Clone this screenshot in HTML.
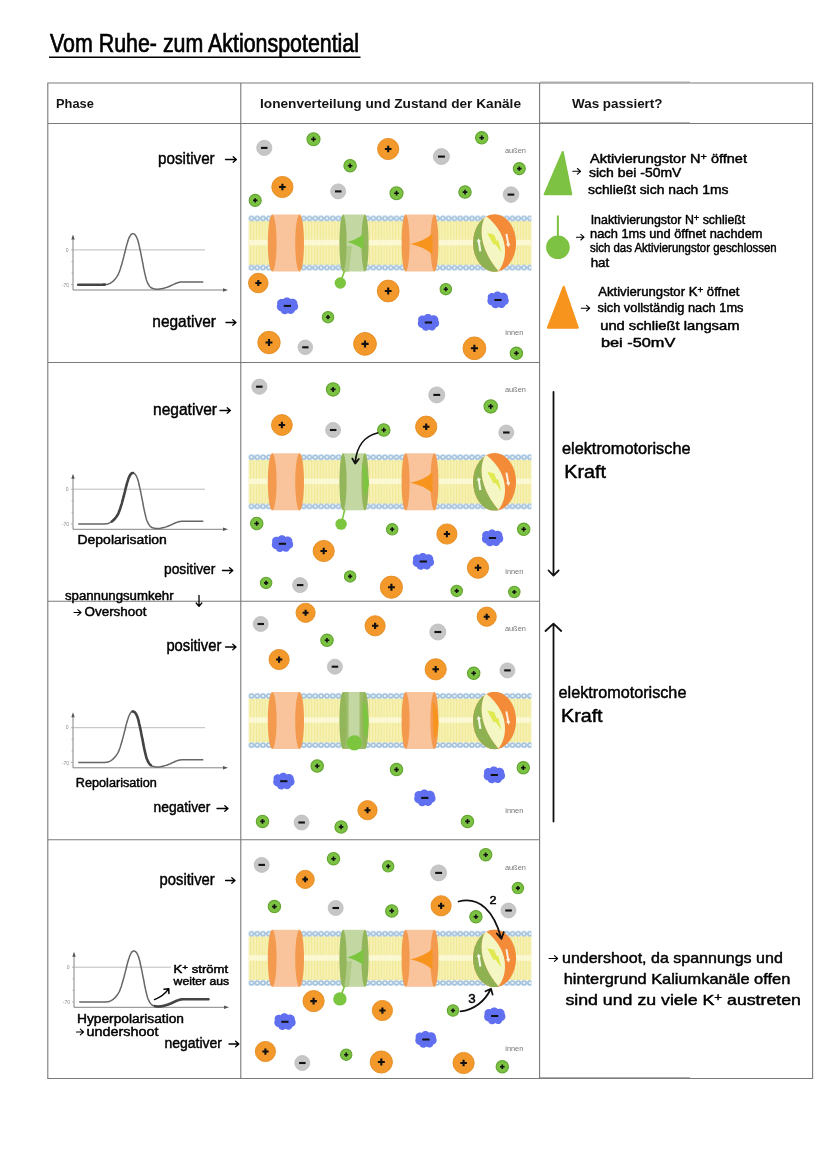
<!DOCTYPE html>
<html lang="de"><head><meta charset="utf-8"><title>Vom Ruhe- zum Aktionspotential</title>
<style>html,body{margin:0;padding:0;background:#fff}svg{display:block}text{font-family:"Liberation Sans", sans-serif}.hw{stroke:#000;stroke-width:.45px;stroke-linejoin:round}.hb{stroke:#000;stroke-width:.3px}</style>
</head><body>
<svg width="828" height="1171" viewBox="0 0 828 1171">
<defs>
<pattern id="tails" x="249.2" y="0" width="2.9" height="45" patternUnits="userSpaceOnUse"><rect width="2.9" height="45" fill="#faf7cc"/><rect x="0.6" width="1.8" height="45" fill="#f1e994"/></pattern>
<pattern id="heads" x="248.6" y="-27.6" width="5.8" height="6" patternUnits="userSpaceOnUse"><circle cx="2.9" cy="3" r="2.1" fill="#eef5fa" stroke="#9bbcd9" stroke-width="1.5"/></pattern>
<g id="blob"><path d="M-9.5 -1.5C-10.5 -5 -7 -7.5 -4 -6.2C-2.5 -8.5 1.5 -8.6 3 -6.4C6 -7.8 9.8 -5.5 9.4 -2C11 0.5 10 4 7 4.6C6.5 7.5 2.5 8.4 0.5 6.6C-1.5 8.6 -5.5 8 -6 5.2C-9 5 -11 1.5 -9.5 -1.5Z" fill="#5f6ff0"/><path d="M-3.4 0h6.8" stroke="#111" stroke-width="1.9"/></g>
<g id="pump"><clipPath id="pc"><ellipse cx="0" cy="0" rx="21.5" ry="28.8"/></clipPath><g clip-path="url(#pc)"><rect x="-22" y="-29" width="44" height="58" fill="#f38b38"/><path d="M-9.2 -30L-30 -30L-30 30L3.8 30L3.8 28C-13 8 -17 -12 -9.2 -27.5Z" fill="#8eb152"/><path d="M-9.2 -27.5C-17 -12 -13 8 3.8 28C12.5 18 16.5 -8 -9.2 -27.5Z" fill="#f4f6c4"/></g><path d="M-7.5 -10L-0.5 -8.6L2 -2.2L3.6 -2.6L6.8 9.5L0.8 1.2L-1 1.8Z" fill="#e0ea50"/><path d="M-15.3 8.5L-16.8 -1.2L-18 -1L-16.3 -4.6L-13.4 -1.7L-14.7 -1.5L-13.2 8.2Z" fill="#f3f7e6"/><path d="M10.8 -9L12.6 0.7L11.4 1L14.2 4.2L15.7 0.2L14.5 0.4L12.8 -9.3Z" fill="#fdf1e4"/></g>
</defs>
<rect width="828" height="1171" fill="#fff"/>
<text x="50.0" y="52.0" font-size="26" textLength="309.0" lengthAdjust="spacingAndGlyphs" stroke="#000" stroke-width="0.7">Vom Ruhe- zum Aktionspotential</text>
<path d="M49 57.3H360.5" stroke="#000" stroke-width="1.5"/>
<g stroke="#7a7a7a" stroke-width="1.1" fill="none">
<path d="M47.8 83H812.6V1078.5H47.8Z"/>
<path d="M47.8 123.5H812.6"/>
<path d="M240.8 83V1078.5M539.6 83V1078.5"/>
<path d="M540 82.1H690M540 122.7H690M540 1077.6H690" stroke="#9a9a9a" stroke-width="0.9"/>
<path d="M47.8 362.5H539.6"/>
<path d="M47.8 601.2H539.6"/>
<path d="M47.8 839.7H539.6"/>
</g>
<text x="56.0" y="108.4" font-size="13" textLength="37.8" lengthAdjust="spacingAndGlyphs" font-weight="bold" fill="#141414">Phase</text>
<text x="260.0" y="108.4" font-size="13" textLength="261.0" lengthAdjust="spacingAndGlyphs" font-weight="bold" fill="#141414">Ionenverteilung und Zustand der Kanäle</text>
<text x="572.0" y="108.4" font-size="13" textLength="90.5" lengthAdjust="spacingAndGlyphs" font-weight="bold" fill="#141414">Was passiert?</text>
<text x="158.0" y="163.6" font-size="16.4" textLength="56.7" lengthAdjust="spacingAndGlyphs" class="hw">positiver</text>
<path d="M225.5 159.5H236.4M233.2 156.7L236.4 159.5L233.2 162.3" fill="none" stroke="#000" stroke-width="1.3" stroke-linecap="round" stroke-linejoin="round"/>
<g transform="translate(0 0.0)">
<path d="M73 290V236.5M73 290H225" stroke="#777" stroke-width="0.9" fill="none"/>
<path d="M71.3 239.5L73 234.5L74.7 239.5ZM223 288.3L228 290L223 291.7Z" fill="#555"/>
<path d="M73 249.9H205" stroke="#aaa" stroke-width="0.8"/>
<path d="M71 249.9h2M71.5 261.5h1.5M71.5 273h1.5M71 284.7h2" stroke="#999" stroke-width="0.7"/>
<text x="68.5" y="251.6" font-size="5" fill="#888" text-anchor="end">0</text>
<text x="69" y="287" font-size="5" fill="#888" text-anchor="end">-70</text>
<polyline points="78.2,284.7 79.3,284.7 80.7,284.7 82.4,284.7 84.3,284.7 86.3,284.7 88.3,284.7 90.2,284.7 92.0,284.7 93.7,284.7 95.5,284.7 97.3,284.7 99.0,284.7 100.7,284.7 102.2,284.7 103.6,284.6 104.8,284.6 105.7,284.5 106.4,284.5 107.0,284.4 107.4,284.4 107.8,284.3 108.1,284.2 108.5,284.0 109.0,283.8 109.5,283.6 110.1,283.3 110.7,283.0 111.2,282.6 111.8,282.2 112.4,281.8 112.9,281.3 113.5,280.8 114.1,280.2 114.7,279.6 115.2,278.9 115.8,278.2 116.4,277.4 117.0,276.6 117.5,275.7 118.0,274.8 118.5,273.8 118.9,272.8 119.3,271.8 119.7,270.7 120.1,269.6 120.5,268.4 120.8,267.2 121.2,266.0 121.6,264.8 122.0,263.5 122.3,262.1 122.7,260.8 123.1,259.4 123.4,258.0 123.8,256.7 124.1,255.4 124.4,254.1 124.8,252.8 125.1,251.5 125.4,250.2 125.7,249.0 126.0,247.8 126.3,246.6 126.6,245.5 126.9,244.4 127.2,243.4 127.5,242.4 127.8,241.5 128.1,240.6 128.3,239.8 128.6,239.0 128.9,238.3 129.2,237.7 129.4,237.1 129.7,236.5 130.0,236.1 130.2,235.6 130.5,235.2 130.7,234.9 131.0,234.6 131.3,234.3 131.5,234.1 131.7,234.0 132.0,233.8 132.2,233.8 132.5,233.7 132.7,233.7 133.0,233.7 133.3,233.7 133.5,233.8 133.8,233.9 134.1,234.0 134.4,234.2 134.6,234.4 134.9,234.7 135.2,235.0 135.5,235.4 135.8,235.8 136.1,236.3 136.4,236.8 136.7,237.5 137.0,238.1 137.3,238.9 137.6,239.7 137.9,240.6 138.2,241.7 138.5,242.8 138.8,243.9 139.0,245.2 139.3,246.4 139.6,247.7 139.9,249.0 140.2,250.3 140.5,251.7 140.8,253.1 141.1,254.5 141.3,255.9 141.6,257.4 141.9,258.9 142.2,260.3 142.5,261.8 142.8,263.2 143.1,264.8 143.3,266.3 143.6,267.8 143.9,269.2 144.2,270.6 144.5,272.0 144.8,273.3 145.1,274.6 145.4,275.9 145.7,277.1 146.0,278.3 146.3,279.5 146.6,280.5 147.0,281.5 147.4,282.4 147.8,283.2 148.1,284.0 148.6,284.7 149.0,285.4 149.4,286.0 149.8,286.5 150.3,287.0 150.8,287.4 151.2,287.8 151.7,288.0 152.2,288.3 152.8,288.5 153.3,288.6 153.8,288.8 154.3,288.9 154.8,289.0 155.3,289.1 155.8,289.2 156.3,289.2 156.8,289.3 157.4,289.3 157.9,289.2 158.5,289.2 159.1,289.1 159.8,289.1 160.5,289.0 161.1,288.8 161.8,288.7 162.5,288.5 163.2,288.4 163.9,288.2 164.6,288.0 165.2,287.8 165.9,287.6 166.5,287.4 167.1,287.2 167.8,287.0 168.4,286.7 169.0,286.5 169.6,286.3 170.2,286.0 170.8,285.7 171.4,285.4 171.9,285.2 172.5,284.9 173.1,284.6 173.6,284.4 174.1,284.2 174.6,283.9 175.1,283.7 175.6,283.5 176.1,283.3 176.5,283.1 177.0,283.0 177.5,282.8 178.0,282.7 178.4,282.5 178.8,282.4 179.2,282.3 179.7,282.2 180.2,282.1 180.8,282.1 181.5,282.0 182.3,282.0 183.2,281.9 184.1,281.9 185.2,281.9 186.3,282.0 187.4,282.0 188.7,282.0 190.0,282.0 191.5,282.0 193.3,282.0 195.2,282.0 197.2,282.0 199.1,282.0 200.8,282.0 202.2,282.0 203.3,282.0" fill="none" stroke="#666" stroke-width="1.5" stroke-linejoin="round"/>
<polyline points="78.2,284.7 79.3,284.7 80.7,284.7 82.4,284.7 84.3,284.7 86.3,284.7 88.3,284.7 90.2,284.7 92.0,284.7 93.7,284.7 95.5,284.7 97.3,284.7 99.0,284.7 100.7,284.7 102.2,284.7 103.6,284.6 104.8,284.6" fill="none" stroke="#444" stroke-width="2.6" stroke-linecap="round" stroke-linejoin="round"/>
</g>
<text x="152.3" y="326.7" font-size="16.6" textLength="63.6" lengthAdjust="spacingAndGlyphs" class="hw">negativer</text>
<path d="M226.0 322.5H236.0M232.8 319.7L236.0 322.5L232.8 325.3" fill="none" stroke="#000" stroke-width="1.3" stroke-linecap="round" stroke-linejoin="round"/>
<text x="153.0" y="414.5" font-size="16.7" textLength="64.0" lengthAdjust="spacingAndGlyphs" class="hw">negativer</text>
<path d="M220.0 410.5H230.4M227.2 407.7L230.4 410.5L227.2 413.3" fill="none" stroke="#000" stroke-width="1.3" stroke-linecap="round" stroke-linejoin="round"/>
<g transform="translate(0 239.3)">
<path d="M73 290V236.5M73 290H225" stroke="#777" stroke-width="0.9" fill="none"/>
<path d="M71.3 239.5L73 234.5L74.7 239.5ZM223 288.3L228 290L223 291.7Z" fill="#555"/>
<path d="M73 249.9H205" stroke="#aaa" stroke-width="0.8"/>
<path d="M71 249.9h2M71.5 261.5h1.5M71.5 273h1.5M71 284.7h2" stroke="#999" stroke-width="0.7"/>
<text x="68.5" y="251.6" font-size="5" fill="#888" text-anchor="end">0</text>
<text x="69" y="287" font-size="5" fill="#888" text-anchor="end">-70</text>
<polyline points="78.2,284.7 79.3,284.7 80.7,284.7 82.4,284.7 84.3,284.7 86.3,284.7 88.3,284.7 90.2,284.7 92.0,284.7 93.7,284.7 95.5,284.7 97.3,284.7 99.0,284.7 100.7,284.7 102.2,284.7 103.6,284.6 104.8,284.6 105.7,284.5 106.4,284.5 107.0,284.4 107.4,284.4 107.8,284.3 108.1,284.2 108.5,284.0 109.0,283.8 109.5,283.6 110.1,283.3 110.7,283.0 111.2,282.6 111.8,282.2 112.4,281.8 112.9,281.3 113.5,280.8 114.1,280.2 114.7,279.6 115.2,278.9 115.8,278.2 116.4,277.4 117.0,276.6 117.5,275.7 118.0,274.8 118.5,273.8 118.9,272.8 119.3,271.8 119.7,270.7 120.1,269.6 120.5,268.4 120.8,267.2 121.2,266.0 121.6,264.8 122.0,263.5 122.3,262.1 122.7,260.8 123.1,259.4 123.4,258.0 123.8,256.7 124.1,255.4 124.4,254.1 124.8,252.8 125.1,251.5 125.4,250.2 125.7,249.0 126.0,247.8 126.3,246.6 126.6,245.5 126.9,244.4 127.2,243.4 127.5,242.4 127.8,241.5 128.1,240.6 128.3,239.8 128.6,239.0 128.9,238.3 129.2,237.7 129.4,237.1 129.7,236.5 130.0,236.1 130.2,235.6 130.5,235.2 130.7,234.9 131.0,234.6 131.3,234.3 131.5,234.1 131.7,234.0 132.0,233.8 132.2,233.8 132.5,233.7 132.7,233.7 133.0,233.7 133.3,233.7 133.5,233.8 133.8,233.9 134.1,234.0 134.4,234.2 134.6,234.4 134.9,234.7 135.2,235.0 135.5,235.4 135.8,235.8 136.1,236.3 136.4,236.8 136.7,237.5 137.0,238.1 137.3,238.9 137.6,239.7 137.9,240.6 138.2,241.7 138.5,242.8 138.8,243.9 139.0,245.2 139.3,246.4 139.6,247.7 139.9,249.0 140.2,250.3 140.5,251.7 140.8,253.1 141.1,254.5 141.3,255.9 141.6,257.4 141.9,258.9 142.2,260.3 142.5,261.8 142.8,263.2 143.1,264.8 143.3,266.3 143.6,267.8 143.9,269.2 144.2,270.6 144.5,272.0 144.8,273.3 145.1,274.6 145.4,275.9 145.7,277.1 146.0,278.3 146.3,279.5 146.6,280.5 147.0,281.5 147.4,282.4 147.8,283.2 148.1,284.0 148.6,284.7 149.0,285.4 149.4,286.0 149.8,286.5 150.3,287.0 150.8,287.4 151.2,287.8 151.7,288.0 152.2,288.3 152.8,288.5 153.3,288.6 153.8,288.8 154.3,288.9 154.8,289.0 155.3,289.1 155.8,289.2 156.3,289.2 156.8,289.3 157.4,289.3 157.9,289.2 158.5,289.2 159.1,289.1 159.8,289.1 160.5,289.0 161.1,288.8 161.8,288.7 162.5,288.5 163.2,288.4 163.9,288.2 164.6,288.0 165.2,287.8 165.9,287.6 166.5,287.4 167.1,287.2 167.8,287.0 168.4,286.7 169.0,286.5 169.6,286.3 170.2,286.0 170.8,285.7 171.4,285.4 171.9,285.2 172.5,284.9 173.1,284.6 173.6,284.4 174.1,284.2 174.6,283.9 175.1,283.7 175.6,283.5 176.1,283.3 176.5,283.1 177.0,283.0 177.5,282.8 178.0,282.7 178.4,282.5 178.8,282.4 179.2,282.3 179.7,282.2 180.2,282.1 180.8,282.1 181.5,282.0 182.3,282.0 183.2,281.9 184.1,281.9 185.2,281.9 186.3,282.0 187.4,282.0 188.7,282.0 190.0,282.0 191.5,282.0 193.3,282.0 195.2,282.0 197.2,282.0 199.1,282.0 200.8,282.0 202.2,282.0 203.3,282.0" fill="none" stroke="#666" stroke-width="1.5" stroke-linejoin="round"/>
<polyline points="111.8,282.2 112.4,281.8 112.9,281.3 113.5,280.8 114.1,280.2 114.7,279.6 115.2,278.9 115.8,278.2 116.4,277.4 117.0,276.6 117.5,275.7 118.0,274.8 118.5,273.8 118.9,272.8 119.3,271.8 119.7,270.7 120.1,269.6 120.5,268.4 120.8,267.2 121.2,266.0 121.6,264.8 122.0,263.5 122.3,262.1 122.7,260.8 123.1,259.4 123.4,258.0 123.8,256.7 124.1,255.4 124.4,254.1 124.8,252.8 125.1,251.5 125.4,250.2 125.7,249.0 126.0,247.8 126.3,246.6 126.6,245.5 126.9,244.4 127.2,243.4 127.5,242.4 127.8,241.5 128.1,240.6 128.3,239.8 128.6,239.0 128.9,238.3 129.2,237.7 129.4,237.1 129.7,236.5 130.0,236.1 130.2,235.6 130.5,235.2 130.7,234.9 131.0,234.6 131.3,234.3 131.5,234.1 131.7,234.0 132.0,233.8 132.2,233.8 132.5,233.7 132.7,233.7 133.0,233.7" fill="none" stroke="#444" stroke-width="2.6" stroke-linecap="round" stroke-linejoin="round"/>
</g>
<text x="77.5" y="543.7" font-size="12.5" textLength="89.3" lengthAdjust="spacingAndGlyphs" class="hw">Depolarisation</text>
<text x="164.0" y="574.0" font-size="14.8" textLength="51.4" lengthAdjust="spacingAndGlyphs" class="hw">positiver</text>
<path d="M222.4 570.5H232.8M229.6 567.7L232.8 570.5L229.6 573.3" fill="none" stroke="#000" stroke-width="1.3" stroke-linecap="round" stroke-linejoin="round"/>
<text x="65.0" y="599.8" font-size="12.5" textLength="108.6" lengthAdjust="spacingAndGlyphs" class="hw">spannungsumkehr</text>
<path d="M199 595.5V606M196.2 603L199 606.3L201.8 603" fill="none" stroke="#000" stroke-width="1.3" stroke-linecap="round" stroke-linejoin="round"/>
<path d="M74.0 612.5H81.0M77.8 609.7L81.0 612.5L77.8 615.3" fill="none" stroke="#000" stroke-width="1.1" stroke-linecap="round" stroke-linejoin="round"/>
<text x="84.5" y="616.2" font-size="12.5" textLength="62.0" lengthAdjust="spacingAndGlyphs" class="hw">Overshoot</text>
<text x="166.4" y="651.0" font-size="15.9" textLength="55.0" lengthAdjust="spacingAndGlyphs" class="hw">positiver</text>
<path d="M225.5 647.0H236.0M232.8 644.2L236.0 647.0L232.8 649.8" fill="none" stroke="#000" stroke-width="1.3" stroke-linecap="round" stroke-linejoin="round"/>
<g transform="translate(0 477.8)">
<path d="M73 290V236.5M73 290H225" stroke="#777" stroke-width="0.9" fill="none"/>
<path d="M71.3 239.5L73 234.5L74.7 239.5ZM223 288.3L228 290L223 291.7Z" fill="#555"/>
<path d="M73 249.9H205" stroke="#aaa" stroke-width="0.8"/>
<path d="M71 249.9h2M71.5 261.5h1.5M71.5 273h1.5M71 284.7h2" stroke="#999" stroke-width="0.7"/>
<text x="68.5" y="251.6" font-size="5" fill="#888" text-anchor="end">0</text>
<text x="69" y="287" font-size="5" fill="#888" text-anchor="end">-70</text>
<polyline points="78.2,284.7 79.3,284.7 80.7,284.7 82.4,284.7 84.3,284.7 86.3,284.7 88.3,284.7 90.2,284.7 92.0,284.7 93.7,284.7 95.5,284.7 97.3,284.7 99.0,284.7 100.7,284.7 102.2,284.7 103.6,284.6 104.8,284.6 105.7,284.5 106.4,284.5 107.0,284.4 107.4,284.4 107.8,284.3 108.1,284.2 108.5,284.0 109.0,283.8 109.5,283.6 110.1,283.3 110.7,283.0 111.2,282.6 111.8,282.2 112.4,281.8 112.9,281.3 113.5,280.8 114.1,280.2 114.7,279.6 115.2,278.9 115.8,278.2 116.4,277.4 117.0,276.6 117.5,275.7 118.0,274.8 118.5,273.8 118.9,272.8 119.3,271.8 119.7,270.7 120.1,269.6 120.5,268.4 120.8,267.2 121.2,266.0 121.6,264.8 122.0,263.5 122.3,262.1 122.7,260.8 123.1,259.4 123.4,258.0 123.8,256.7 124.1,255.4 124.4,254.1 124.8,252.8 125.1,251.5 125.4,250.2 125.7,249.0 126.0,247.8 126.3,246.6 126.6,245.5 126.9,244.4 127.2,243.4 127.5,242.4 127.8,241.5 128.1,240.6 128.3,239.8 128.6,239.0 128.9,238.3 129.2,237.7 129.4,237.1 129.7,236.5 130.0,236.1 130.2,235.6 130.5,235.2 130.7,234.9 131.0,234.6 131.3,234.3 131.5,234.1 131.7,234.0 132.0,233.8 132.2,233.8 132.5,233.7 132.7,233.7 133.0,233.7 133.3,233.7 133.5,233.8 133.8,233.9 134.1,234.0 134.4,234.2 134.6,234.4 134.9,234.7 135.2,235.0 135.5,235.4 135.8,235.8 136.1,236.3 136.4,236.8 136.7,237.5 137.0,238.1 137.3,238.9 137.6,239.7 137.9,240.6 138.2,241.7 138.5,242.8 138.8,243.9 139.0,245.2 139.3,246.4 139.6,247.7 139.9,249.0 140.2,250.3 140.5,251.7 140.8,253.1 141.1,254.5 141.3,255.9 141.6,257.4 141.9,258.9 142.2,260.3 142.5,261.8 142.8,263.2 143.1,264.8 143.3,266.3 143.6,267.8 143.9,269.2 144.2,270.6 144.5,272.0 144.8,273.3 145.1,274.6 145.4,275.9 145.7,277.1 146.0,278.3 146.3,279.5 146.6,280.5 147.0,281.5 147.4,282.4 147.8,283.2 148.1,284.0 148.6,284.7 149.0,285.4 149.4,286.0 149.8,286.5 150.3,287.0 150.8,287.4 151.2,287.8 151.7,288.0 152.2,288.3 152.8,288.5 153.3,288.6 153.8,288.8 154.3,288.9 154.8,289.0 155.3,289.1 155.8,289.2 156.3,289.2 156.8,289.3 157.4,289.3 157.9,289.2 158.5,289.2 159.1,289.1 159.8,289.1 160.5,289.0 161.1,288.8 161.8,288.7 162.5,288.5 163.2,288.4 163.9,288.2 164.6,288.0 165.2,287.8 165.9,287.6 166.5,287.4 167.1,287.2 167.8,287.0 168.4,286.7 169.0,286.5 169.6,286.3 170.2,286.0 170.8,285.7 171.4,285.4 171.9,285.2 172.5,284.9 173.1,284.6 173.6,284.4 174.1,284.2 174.6,283.9 175.1,283.7 175.6,283.5 176.1,283.3 176.5,283.1 177.0,283.0 177.5,282.8 178.0,282.7 178.4,282.5 178.8,282.4 179.2,282.3 179.7,282.2 180.2,282.1 180.8,282.1 181.5,282.0 182.3,282.0 183.2,281.9 184.1,281.9 185.2,281.9 186.3,282.0 187.4,282.0 188.7,282.0 190.0,282.0 191.5,282.0 193.3,282.0 195.2,282.0 197.2,282.0 199.1,282.0 200.8,282.0 202.2,282.0 203.3,282.0" fill="none" stroke="#666" stroke-width="1.5" stroke-linejoin="round"/>
<polyline points="132.5,233.7 132.7,233.7 133.0,233.7 133.3,233.7 133.5,233.8 133.8,233.9 134.1,234.0 134.4,234.2 134.6,234.4 134.9,234.7 135.2,235.0 135.5,235.4 135.8,235.8 136.1,236.3 136.4,236.8 136.7,237.5 137.0,238.1 137.3,238.9 137.6,239.7 137.9,240.6 138.2,241.7 138.5,242.8 138.8,243.9 139.0,245.2 139.3,246.4 139.6,247.7 139.9,249.0 140.2,250.3 140.5,251.7 140.8,253.1 141.1,254.5 141.3,255.9 141.6,257.4 141.9,258.9 142.2,260.3 142.5,261.8 142.8,263.2 143.1,264.8 143.3,266.3 143.6,267.8 143.9,269.2 144.2,270.6 144.5,272.0 144.8,273.3 145.1,274.6 145.4,275.9 145.7,277.1 146.0,278.3 146.3,279.5 146.6,280.5 147.0,281.5 147.4,282.4 147.8,283.2 148.1,284.0 148.6,284.7 149.0,285.4 149.4,286.0 149.8,286.5 150.3,287.0 150.8,287.4" fill="none" stroke="#444" stroke-width="2.6" stroke-linecap="round" stroke-linejoin="round"/>
</g>
<text x="75.8" y="786.7" font-size="12.5" textLength="81.0" lengthAdjust="spacingAndGlyphs" class="hw">Repolarisation</text>
<text x="153.6" y="812.0" font-size="14.8" textLength="56.7" lengthAdjust="spacingAndGlyphs" class="hw">negativer</text>
<path d="M217.0 808.5H228.0M224.8 805.7L228.0 808.5L224.8 811.3" fill="none" stroke="#000" stroke-width="1.3" stroke-linecap="round" stroke-linejoin="round"/>
<text x="159.6" y="884.9" font-size="15.9" textLength="55.1" lengthAdjust="spacingAndGlyphs" class="hw">positiver</text>
<path d="M225.5 880.5H235.0M231.8 877.7L235.0 880.5L231.8 883.3" fill="none" stroke="#000" stroke-width="1.3" stroke-linecap="round" stroke-linejoin="round"/>
<g transform="translate(1 717.3)">
<path d="M73 290V236.5M73 290H225" stroke="#777" stroke-width="0.9" fill="none"/>
<path d="M71.3 239.5L73 234.5L74.7 239.5ZM223 288.3L228 290L223 291.7Z" fill="#555"/>
<path d="M73 249.9H170" stroke="#aaa" stroke-width="0.8"/>
<path d="M71 249.9h2M71.5 261.5h1.5M71.5 273h1.5M71 284.7h2" stroke="#999" stroke-width="0.7"/>
<text x="68.5" y="251.6" font-size="5" fill="#888" text-anchor="end">0</text>
<text x="69" y="287" font-size="5" fill="#888" text-anchor="end">-70</text>
<polyline points="78.2,284.7 79.3,284.7 80.7,284.7 82.4,284.7 84.3,284.7 86.3,284.7 88.3,284.7 90.2,284.7 92.0,284.7 93.7,284.7 95.5,284.7 97.3,284.7 99.0,284.7 100.7,284.7 102.2,284.7 103.6,284.6 104.8,284.6 105.7,284.5 106.4,284.5 107.0,284.4 107.4,284.4 107.8,284.3 108.1,284.2 108.5,284.0 109.0,283.8 109.5,283.6 110.1,283.3 110.7,283.0 111.2,282.6 111.8,282.2 112.4,281.8 112.9,281.3 113.5,280.8 114.1,280.2 114.7,279.6 115.2,278.9 115.8,278.2 116.4,277.4 117.0,276.6 117.5,275.7 118.0,274.8 118.5,273.8 118.9,272.8 119.3,271.8 119.7,270.7 120.1,269.6 120.5,268.4 120.8,267.2 121.2,266.0 121.6,264.8 122.0,263.5 122.3,262.1 122.7,260.8 123.1,259.4 123.4,258.0 123.8,256.7 124.1,255.4 124.4,254.1 124.8,252.8 125.1,251.5 125.4,250.2 125.7,249.0 126.0,247.8 126.3,246.6 126.6,245.5 126.9,244.4 127.2,243.4 127.5,242.4 127.8,241.5 128.1,240.6 128.3,239.8 128.6,239.0 128.9,238.3 129.2,237.7 129.4,237.1 129.7,236.5 130.0,236.1 130.2,235.6 130.5,235.2 130.7,234.9 131.0,234.6 131.3,234.3 131.5,234.1 131.7,234.0 132.0,233.8 132.2,233.8 132.5,233.7 132.7,233.7 133.0,233.7 133.3,233.7 133.5,233.8 133.8,233.9 134.1,234.0 134.4,234.2 134.6,234.4 134.9,234.7 135.2,235.0 135.5,235.4 135.8,235.8 136.1,236.3 136.4,236.8 136.7,237.5 137.0,238.1 137.3,238.9 137.6,239.7 137.9,240.6 138.2,241.7 138.5,242.8 138.8,243.9 139.0,245.2 139.3,246.4 139.6,247.7 139.9,249.0 140.2,250.3 140.5,251.7 140.8,253.1 141.1,254.5 141.3,255.9 141.6,257.4 141.9,258.9 142.2,260.3 142.5,261.8 142.8,263.2 143.1,264.8 143.3,266.3 143.6,267.8 143.9,269.2 144.2,270.6 144.5,272.0 144.8,273.3 145.1,274.6 145.4,275.9 145.7,277.1 146.0,278.3 146.3,279.5 146.6,280.5 147.0,281.5 147.4,282.4 147.8,283.2 148.1,284.0 148.6,284.7 149.0,285.4 149.4,286.0 149.8,286.5 150.3,287.0 150.8,287.4 151.2,287.8 151.7,288.0 152.2,288.3 152.8,288.5 153.3,288.6 153.8,288.8 154.3,288.9 154.8,289.0 155.3,289.1 155.8,289.2 156.3,289.2 156.8,289.3 157.4,289.3 157.9,289.2 158.5,289.2 159.1,289.1 159.8,289.1 160.5,289.0 161.1,288.8 161.8,288.7 162.5,288.5 163.2,288.4 163.9,288.2 164.6,288.0 165.2,287.8 165.9,287.6 166.5,287.4 167.1,287.2 167.8,287.0 168.4,286.7 169.0,286.5 169.6,286.3 170.2,286.0 170.8,285.7 171.4,285.4 171.9,285.2 172.5,284.9 173.1,284.6 173.6,284.4 174.1,284.2 174.6,283.9 175.1,283.7 175.6,283.5 176.1,283.3 176.5,283.1 177.0,283.0 177.5,282.8 178.0,282.7 178.4,282.5 178.8,282.4 179.2,282.3 179.7,282.2 180.2,282.1 180.8,282.1 181.5,282.0 182.3,282.0 183.2,281.9 184.1,281.9 185.2,281.9 186.3,282.0 187.4,282.0 188.7,282.0 190.0,282.0 191.5,282.0 193.3,282.0 195.2,282.0 197.2,282.0 199.1,282.0 200.8,282.0 202.2,282.0 203.3,282.0" fill="none" stroke="#666" stroke-width="1.5" stroke-linejoin="round"/>
<polyline points="153.8,288.8 154.3,288.9 154.8,289.0 155.3,289.1 155.8,289.2 156.3,289.2 156.8,289.3 157.4,289.3 157.9,289.2 158.5,289.2 159.1,289.1 159.8,289.1 160.5,289.0 161.1,288.8 161.8,288.7 162.5,288.5 163.2,288.4 163.9,288.2 164.6,288.0 165.2,287.8 165.9,287.6 166.5,287.4 167.1,287.2 167.8,287.0 168.4,286.7 169.0,286.5 169.6,286.3 170.2,286.0 170.8,285.7 171.4,285.4 171.9,285.2 172.5,284.9 173.1,284.6 173.6,284.4 174.1,284.2 174.6,283.9 175.1,283.7 175.6,283.5 176.1,283.3 176.5,283.1 177.0,283.0 177.5,282.8 178.0,282.7 178.4,282.5 178.8,282.4 179.2,282.3 179.7,282.2 180.2,282.1 180.8,282.1 181.5,282.0 182.3,282.0 183.2,281.9 184.1,281.9 185.2,281.9 186.3,282.0 187.4,282.0 188.7,282.0 190.0,282.0 191.5,282.0 193.3,282.0 195.2,282.0 197.2,282.0 199.1,282.0 200.8,282.0 202.2,282.0 203.3,282.0 207.5,282.0" fill="none" stroke="#444" stroke-width="2.6" stroke-linecap="round" stroke-linejoin="round"/>
</g>
<text x="173.6" y="973.0" font-size="10.5" textLength="54.5" lengthAdjust="spacingAndGlyphs" class="hw">K<tspan dy="-3.5" font-size="75%">+</tspan><tspan dy="3.5"> </tspan>strömt</text>
<text x="173.6" y="984.6" font-size="10.5" textLength="55.6" lengthAdjust="spacingAndGlyphs" class="hw">weiter aus</text>
<path d="M154.5 999.6C160 997.5 165 994 168.6 988.9M164 989.2L168.8 988.7L168.9 993.6" fill="none" stroke="#000" stroke-width="1.5" stroke-linecap="round" stroke-linejoin="round"/>
<text x="77.0" y="1022.5" font-size="12.5" textLength="107.0" lengthAdjust="spacingAndGlyphs" class="hw">Hyperpolarisation</text>
<path d="M76.5 1032.0H83.5M80.3 1029.2L83.5 1032.0L80.3 1034.8" fill="none" stroke="#000" stroke-width="1.1" stroke-linecap="round" stroke-linejoin="round"/>
<text x="86.5" y="1035.8" font-size="12.5" textLength="72.0" lengthAdjust="spacingAndGlyphs" class="hw">undershoot</text>
<text x="164.4" y="1047.9" font-size="15.1" textLength="57.6" lengthAdjust="spacingAndGlyphs" class="hw">negativer</text>
<path d="M229.0 1044.0H238.8M235.6 1041.2L238.8 1044.0L235.6 1046.8" fill="none" stroke="#000" stroke-width="1.3" stroke-linecap="round" stroke-linejoin="round"/>
<g transform="translate(0 243.0)">
<rect x="248.6" y="-22" width="282.8" height="44" fill="url(#tails)"/>
<rect x="248.6" y="-3.2" width="282.8" height="5.6" fill="#fbf9d6" opacity="0.92"/>
<rect x="248.6" y="-27.6" width="282.8" height="6" fill="url(#heads)"/>
<g transform="translate(0 49.2)"><rect x="248.6" y="-27.6" width="282.8" height="6" fill="url(#heads)"/></g>
<rect x="272" y="-28.5" width="28" height="57" fill="#f9c49c"/>
<ellipse cx="272.2" cy="0" rx="4.4" ry="28.5" fill="#f39a4e"/>
<ellipse cx="299.6" cy="0" rx="4.4" ry="28.5" fill="#f39a4e"/>
<rect x="343" y="-28.5" width="22" height="57" fill="#c3d7a2"/>
<path d="M343 3L352 3L349 28.5L343 28.5Z" fill="#b0cb86"/>
<ellipse cx="343" cy="0" rx="3.6" ry="28.5" fill="#93b65a"/>
<ellipse cx="365" cy="0" rx="3.6" ry="28.5" fill="#93b65a"/>
<path d="M347.2 -0.9Q356 -3 363.4 -9L363.4 6.6Q356 1.2 347.2 -0.9Z" fill="#7cc53e"/>
<path d="M344.7 27.5L341.3 37.0" stroke="#7cc53e" stroke-width="1.6" fill="none"/>
<circle cx="340.3" cy="40.0" r="5.7" fill="#7cc53e"/>
<rect x="405.5" y="-28.5" width="29" height="57" fill="#f9c49c"/>
<ellipse cx="405.6" cy="0" rx="4" ry="28.5" fill="#f39a4e"/>
<ellipse cx="434.4" cy="0" rx="4" ry="28.5" fill="#f39a4e"/>
<path d="M410.2 0.9Q424 -1.8 432.5 -9.6L432.5 11.4Q424 3.6 410.2 0.9Z" fill="#f7941d"/>
<g transform="translate(494.6 0)"><use href="#pump"/></g>
</g>
<circle cx="264.3" cy="147.9" r="7.6" fill="#c6c6c6" stroke="#bcbcbc" stroke-width="0.8"/>
<path d="M261.0 147.9h6.5" stroke="#111" stroke-width="2.1"/>
<circle cx="313.5" cy="139.2" r="6.5" fill="#7bc142" stroke="#62a430" stroke-width="1.1"/>
<path d="M311.1 139.2h4.8M313.5 136.8v4.8" stroke="#111" stroke-width="1.6"/>
<circle cx="388.2" cy="149.0" r="10.6" fill="#f3982b" stroke="#e38c22" stroke-width="0.9"/>
<path d="M384.9 149.0h6.6M388.2 145.7v6.6" stroke="#111" stroke-width="2.1"/>
<circle cx="441.4" cy="156.6" r="8" fill="#c6c6c6" stroke="#bcbcbc" stroke-width="0.8"/>
<path d="M438.0 156.6h6.9" stroke="#111" stroke-width="2.1"/>
<circle cx="481.7" cy="137.8" r="6.2" fill="#7bc142" stroke="#62a430" stroke-width="1.1"/>
<path d="M479.4 137.8h4.6M481.7 135.5v4.6" stroke="#111" stroke-width="1.6"/>
<circle cx="350.1" cy="165.7" r="6.2" fill="#7bc142" stroke="#62a430" stroke-width="1.1"/>
<path d="M347.8 165.7h4.6M350.1 163.4v4.6" stroke="#111" stroke-width="1.6"/>
<circle cx="519.3" cy="168.6" r="6.0" fill="#7bc142" stroke="#62a430" stroke-width="1.1"/>
<path d="M517.1 168.6h4.4M519.3 166.4v4.4" stroke="#111" stroke-width="1.6"/>
<circle cx="282.4" cy="187.0" r="10.6" fill="#f3982b" stroke="#e38c22" stroke-width="0.9"/>
<path d="M279.1 187.0h6.6M282.4 183.7v6.6" stroke="#111" stroke-width="2.1"/>
<circle cx="338.2" cy="191.4" r="7.5" fill="#c6c6c6" stroke="#bcbcbc" stroke-width="0.8"/>
<path d="M335.0 191.4h6.5" stroke="#111" stroke-width="2.1"/>
<circle cx="396.5" cy="193.2" r="6.5" fill="#7bc142" stroke="#62a430" stroke-width="1.1"/>
<path d="M394.1 193.2h4.8M396.5 190.8v4.8" stroke="#111" stroke-width="1.6"/>
<circle cx="465.0" cy="192.1" r="6.2" fill="#7bc142" stroke="#62a430" stroke-width="1.1"/>
<path d="M462.7 192.1h4.6M465.0 189.8v4.6" stroke="#111" stroke-width="1.6"/>
<circle cx="511.0" cy="194.6" r="7.8" fill="#c6c6c6" stroke="#bcbcbc" stroke-width="0.8"/>
<path d="M507.6 194.6h6.7" stroke="#111" stroke-width="2.1"/>
<circle cx="255.2" cy="200.4" r="6.0" fill="#7bc142" stroke="#62a430" stroke-width="1.1"/>
<path d="M253.0 200.4h4.4M255.2 198.2v4.4" stroke="#111" stroke-width="1.6"/>
<circle cx="258.3" cy="283.0" r="9.8" fill="#f3982b" stroke="#e38c22" stroke-width="0.9"/>
<path d="M255.3 283.0h6.1M258.3 280.0v6.1" stroke="#111" stroke-width="2.1"/>
<circle cx="388.2" cy="291.0" r="10.9" fill="#f3982b" stroke="#e38c22" stroke-width="0.9"/>
<path d="M384.8 291.0h6.8M388.2 287.6v6.8" stroke="#111" stroke-width="2.1"/>
<circle cx="445.8" cy="289.2" r="5.7" fill="#7bc142" stroke="#62a430" stroke-width="1.1"/>
<path d="M443.7 289.2h4.2M445.8 287.1v4.2" stroke="#111" stroke-width="1.6"/>
<g transform="translate(498.0 300.0) scale(1.06)"><use href="#blob"/></g>
<g transform="translate(287.4 305.9) scale(1.06)"><use href="#blob"/></g>
<circle cx="328.0" cy="317.2" r="5.7" fill="#7bc142" stroke="#62a430" stroke-width="1.1"/>
<path d="M325.9 317.2h4.2M328.0 315.1v4.2" stroke="#111" stroke-width="1.6"/>
<g transform="translate(428.4 322.5) scale(1.06)"><use href="#blob"/></g>
<circle cx="269.0" cy="342.5" r="11.2" fill="#f3982b" stroke="#e38c22" stroke-width="0.9"/>
<path d="M265.5 342.5h6.9M269.0 339.0v6.9" stroke="#111" stroke-width="2.1"/>
<circle cx="305.3" cy="347.3" r="7.3" fill="#c6c6c6" stroke="#bcbcbc" stroke-width="0.8"/>
<path d="M302.2 347.3h6.3" stroke="#111" stroke-width="2.1"/>
<circle cx="365.0" cy="343.9" r="11.4" fill="#f3982b" stroke="#e38c22" stroke-width="0.9"/>
<path d="M361.5 343.9h7.1M365.0 340.4v7.1" stroke="#111" stroke-width="2.1"/>
<circle cx="474.4" cy="348.3" r="11.4" fill="#f3982b" stroke="#e38c22" stroke-width="0.9"/>
<path d="M470.9 348.3h7.1M474.4 344.8v7.1" stroke="#111" stroke-width="2.1"/>
<circle cx="516.4" cy="353.3" r="6.2" fill="#7bc142" stroke="#62a430" stroke-width="1.1"/>
<path d="M514.1 353.3h4.6M516.4 351.0v4.6" stroke="#111" stroke-width="1.6"/>
<text x="504.9" y="153.1" font-size="6.6" textLength="21.0" lengthAdjust="spacingAndGlyphs" fill="#747474">außen</text>
<text x="505.3" y="335.0" font-size="6.6" textLength="18.0" lengthAdjust="spacingAndGlyphs" fill="#747474">innen</text>
<g transform="translate(0 481.8)">
<rect x="248.6" y="-22" width="282.8" height="44" fill="url(#tails)"/>
<rect x="248.6" y="-3.2" width="282.8" height="5.6" fill="#fbf9d6" opacity="0.92"/>
<rect x="248.6" y="-27.6" width="282.8" height="6" fill="url(#heads)"/>
<g transform="translate(0 49.2)"><rect x="248.6" y="-27.6" width="282.8" height="6" fill="url(#heads)"/></g>
<rect x="272" y="-28.5" width="28" height="57" fill="#f9c49c"/>
<ellipse cx="272.2" cy="0" rx="4.4" ry="28.5" fill="#f39a4e"/>
<ellipse cx="299.6" cy="0" rx="4.4" ry="28.5" fill="#f39a4e"/>
<rect x="343" y="-28.5" width="22" height="57" fill="#c3d7a2"/>
<ellipse cx="343" cy="0" rx="3.6" ry="28.5" fill="#93b65a"/>
<ellipse cx="365" cy="0" rx="3.6" ry="28.5" fill="#93b65a"/>
<path d="M362.6 -19C366 -14 368.6 -4 369 1C368.6 6 366.5 12 364.6 14C363.4 6 363 -8 362.6 -19Z" fill="#7cc53e"/>
<path d="M344.7 27.5L342.1 39.3" stroke="#7cc53e" stroke-width="1.6" fill="none"/>
<circle cx="341.1" cy="42.3" r="5.7" fill="#7cc53e"/>
<rect x="405.5" y="-28.5" width="29" height="57" fill="#f9c49c"/>
<ellipse cx="405.6" cy="0" rx="4" ry="28.5" fill="#f39a4e"/>
<ellipse cx="434.4" cy="0" rx="4" ry="28.5" fill="#f39a4e"/>
<path d="M410.2 0.9Q424 -1.8 432.5 -9.6L432.5 11.4Q424 3.6 410.2 0.9Z" fill="#f7941d"/>
<g transform="translate(494.6 0)"><use href="#pump"/></g>
</g>
<circle cx="259.4" cy="386.7" r="7.6" fill="#c6c6c6" stroke="#bcbcbc" stroke-width="0.8"/>
<path d="M256.1 386.7h6.5" stroke="#111" stroke-width="2.1"/>
<circle cx="333.1" cy="389.4" r="6.7" fill="#7bc142" stroke="#62a430" stroke-width="1.1"/>
<path d="M330.6 389.4h5.0M333.1 386.9v5.0" stroke="#111" stroke-width="1.6"/>
<circle cx="436.7" cy="394.9" r="8" fill="#c6c6c6" stroke="#bcbcbc" stroke-width="0.8"/>
<path d="M433.3 394.9h6.9" stroke="#111" stroke-width="2.1"/>
<circle cx="490.7" cy="406.4" r="6.7" fill="#7bc142" stroke="#62a430" stroke-width="1.1"/>
<path d="M488.2 406.4h5.0M490.7 403.9v5.0" stroke="#111" stroke-width="1.6"/>
<circle cx="281.9" cy="425.0" r="10.4" fill="#f3982b" stroke="#e38c22" stroke-width="0.9"/>
<path d="M278.7 425.0h6.4M281.9 421.8v6.4" stroke="#111" stroke-width="2.1"/>
<circle cx="333.1" cy="430.0" r="7.5" fill="#c6c6c6" stroke="#bcbcbc" stroke-width="0.8"/>
<path d="M329.9 430.0h6.5" stroke="#111" stroke-width="2.1"/>
<circle cx="383.8" cy="430.0" r="6.2" fill="#7bc142" stroke="#62a430" stroke-width="1.1"/>
<path d="M381.5 430.0h4.6M383.8 427.7v4.6" stroke="#111" stroke-width="1.6"/>
<circle cx="426.2" cy="426.7" r="10.6" fill="#f3982b" stroke="#e38c22" stroke-width="0.9"/>
<path d="M422.9 426.7h6.6M426.2 423.4v6.6" stroke="#111" stroke-width="2.1"/>
<circle cx="506.3" cy="432.5" r="7.5" fill="#c6c6c6" stroke="#bcbcbc" stroke-width="0.8"/>
<path d="M503.1 432.5h6.5" stroke="#111" stroke-width="2.1"/>
<circle cx="256.7" cy="523.5" r="6.2" fill="#7bc142" stroke="#62a430" stroke-width="1.1"/>
<path d="M254.4 523.5h4.6M256.7 521.2v4.6" stroke="#111" stroke-width="1.6"/>
<circle cx="392.2" cy="529.3" r="5.7" fill="#7bc142" stroke="#62a430" stroke-width="1.1"/>
<path d="M390.1 529.3h4.2M392.2 527.2v4.2" stroke="#111" stroke-width="1.6"/>
<circle cx="446.9" cy="534.0" r="10.1" fill="#f3982b" stroke="#e38c22" stroke-width="0.9"/>
<path d="M443.8 534.0h6.3M446.9 530.9v6.3" stroke="#111" stroke-width="2.1"/>
<circle cx="523.7" cy="529.3" r="6.2" fill="#7bc142" stroke="#62a430" stroke-width="1.1"/>
<path d="M521.4 529.3h4.6M523.7 527.0v4.6" stroke="#111" stroke-width="1.6"/>
<g transform="translate(282.4 543.8) scale(1.06)"><use href="#blob"/></g>
<g transform="translate(492.5 538.0) scale(1.06)"><use href="#blob"/></g>
<circle cx="323.7" cy="551.0" r="10.6" fill="#f3982b" stroke="#e38c22" stroke-width="0.9"/>
<path d="M320.4 551.0h6.6M323.7 547.7v6.6" stroke="#111" stroke-width="2.1"/>
<g transform="translate(423.3 561.5) scale(1.06)"><use href="#blob"/></g>
<circle cx="478.0" cy="567.7" r="10.6" fill="#f3982b" stroke="#e38c22" stroke-width="0.9"/>
<path d="M474.7 567.7h6.6M478.0 564.4v6.6" stroke="#111" stroke-width="2.1"/>
<circle cx="266.1" cy="582.9" r="5.7" fill="#7bc142" stroke="#62a430" stroke-width="1.1"/>
<path d="M264.0 582.9h4.2M266.1 580.8v4.2" stroke="#111" stroke-width="1.6"/>
<circle cx="300.1" cy="585.1" r="7.5" fill="#c6c6c6" stroke="#bcbcbc" stroke-width="0.8"/>
<path d="M296.9 585.1h6.5" stroke="#111" stroke-width="2.1"/>
<circle cx="350.1" cy="576.4" r="5.7" fill="#7bc142" stroke="#62a430" stroke-width="1.1"/>
<path d="M348.0 576.4h4.2M350.1 574.3v4.2" stroke="#111" stroke-width="1.6"/>
<circle cx="391.4" cy="587.2" r="11.1" fill="#f3982b" stroke="#e38c22" stroke-width="0.9"/>
<path d="M388.0 587.2h6.9M391.4 583.8v6.9" stroke="#111" stroke-width="2.1"/>
<circle cx="456.7" cy="590.9" r="5.7" fill="#7bc142" stroke="#62a430" stroke-width="1.1"/>
<path d="M454.6 590.9h4.2M456.7 588.8v4.2" stroke="#111" stroke-width="1.6"/>
<circle cx="514.3" cy="592.0" r="5.7" fill="#7bc142" stroke="#62a430" stroke-width="1.1"/>
<path d="M512.2 592.0h4.2M514.3 589.9v4.2" stroke="#111" stroke-width="1.6"/>
<text x="504.9" y="392.4" font-size="6.6" textLength="21.0" lengthAdjust="spacingAndGlyphs" fill="#747474">außen</text>
<text x="505.3" y="574.0" font-size="6.6" textLength="18.0" lengthAdjust="spacingAndGlyphs" fill="#747474">innen</text>
<path d="M377.5 433C365 436 356.5 446 355.3 462.5M352.3 458.5L355.2 463.6L358.8 459" fill="none" stroke="#111" stroke-width="1.75" stroke-linecap="round" stroke-linejoin="round"/>
<g transform="translate(0 720.5)">
<rect x="248.6" y="-22" width="282.8" height="44" fill="url(#tails)"/>
<rect x="248.6" y="-3.2" width="282.8" height="5.6" fill="#fbf9d6" opacity="0.92"/>
<rect x="248.6" y="-27.6" width="282.8" height="6" fill="url(#heads)"/>
<g transform="translate(0 49.2)"><rect x="248.6" y="-27.6" width="282.8" height="6" fill="url(#heads)"/></g>
<rect x="272" y="-28.5" width="28" height="57" fill="#f9c49c"/>
<ellipse cx="272.2" cy="0" rx="4.4" ry="28.5" fill="#f39a4e"/>
<ellipse cx="299.6" cy="0" rx="4.4" ry="28.5" fill="#f39a4e"/>
<rect x="343" y="-28.5" width="22" height="57" fill="#c3d7a2"/>
<rect x="343" y="-28.5" width="5.5" height="57" fill="#9dbd6a"/><rect x="359.5" y="-28.5" width="5.5" height="57" fill="#9dbd6a"/>
<ellipse cx="343" cy="0" rx="3.6" ry="28.5" fill="#93b65a"/>
<ellipse cx="365" cy="0" rx="3.6" ry="28.5" fill="#93b65a"/>
<path d="M362.8 -20C366.5 -14 368.6 -4 368.6 1C368.6 8 367 15 365 18C363.6 8 363.2 -8 362.8 -20Z" fill="#7cc53e"/>
<circle cx="354.4" cy="22.4" r="7.6" fill="#7cc53e"/>
<rect x="405.5" y="-28.5" width="29" height="57" fill="#f9c49c"/>
<ellipse cx="405.6" cy="0" rx="4" ry="28.5" fill="#f39a4e"/>
<ellipse cx="434.4" cy="0" rx="4" ry="28.5" fill="#f39a4e"/>
<path d="M432.6 -20C436 -14 438.4 -5 438.4 1C438.4 8 436.6 15 434.6 19C433.2 8 433 -8 432.6 -20Z" fill="#f7941d"/>
<g transform="translate(494.6 0)"><use href="#pump"/></g>
</g>
<circle cx="260.7" cy="624.0" r="7.5" fill="#c6c6c6" stroke="#bcbcbc" stroke-width="0.8"/>
<path d="M257.5 624.0h6.5" stroke="#111" stroke-width="2.1"/>
<circle cx="305.6" cy="612.8" r="9.6" fill="#f3982b" stroke="#e38c22" stroke-width="0.9"/>
<path d="M302.6 612.8h6.0M305.6 609.8v6.0" stroke="#111" stroke-width="2.1"/>
<circle cx="327.0" cy="640.3" r="6.2" fill="#7bc142" stroke="#62a430" stroke-width="1.1"/>
<path d="M324.7 640.3h4.6M327.0 638.0v4.6" stroke="#111" stroke-width="1.6"/>
<circle cx="375.1" cy="625.8" r="10.1" fill="#f3982b" stroke="#e38c22" stroke-width="0.9"/>
<path d="M372.0 625.8h6.3M375.1 622.7v6.3" stroke="#111" stroke-width="2.1"/>
<circle cx="437.8" cy="632.0" r="8" fill="#c6c6c6" stroke="#bcbcbc" stroke-width="0.8"/>
<path d="M434.4 632.0h6.9" stroke="#111" stroke-width="2.1"/>
<circle cx="486.7" cy="616.7" r="9.6" fill="#f3982b" stroke="#e38c22" stroke-width="0.9"/>
<path d="M483.7 616.7h6.0M486.7 613.7v6.0" stroke="#111" stroke-width="2.1"/>
<circle cx="279.1" cy="659.5" r="10.1" fill="#f3982b" stroke="#e38c22" stroke-width="0.9"/>
<path d="M276.0 659.5h6.3M279.1 656.4v6.3" stroke="#111" stroke-width="2.1"/>
<circle cx="334.9" cy="666.7" r="7.5" fill="#c6c6c6" stroke="#bcbcbc" stroke-width="0.8"/>
<path d="M331.7 666.7h6.5" stroke="#111" stroke-width="2.1"/>
<circle cx="435.7" cy="669.3" r="10.6" fill="#f3982b" stroke="#e38c22" stroke-width="0.9"/>
<path d="M432.4 669.3h6.6M435.7 666.0v6.6" stroke="#111" stroke-width="2.1"/>
<circle cx="473.7" cy="673.3" r="6.2" fill="#7bc142" stroke="#62a430" stroke-width="1.1"/>
<path d="M471.4 673.3h4.6M473.7 671.0v4.6" stroke="#111" stroke-width="1.6"/>
<circle cx="507.4" cy="670.4" r="7.5" fill="#c6c6c6" stroke="#bcbcbc" stroke-width="0.8"/>
<path d="M504.2 670.4h6.5" stroke="#111" stroke-width="2.1"/>
<circle cx="317.2" cy="766.0" r="6.2" fill="#7bc142" stroke="#62a430" stroke-width="1.1"/>
<path d="M314.9 766.0h4.6M317.2 763.7v4.6" stroke="#111" stroke-width="1.6"/>
<circle cx="396.5" cy="769.6" r="6.2" fill="#7bc142" stroke="#62a430" stroke-width="1.1"/>
<path d="M394.2 769.6h4.6M396.5 767.3v4.6" stroke="#111" stroke-width="1.6"/>
<circle cx="523.3" cy="767.8" r="6.2" fill="#7bc142" stroke="#62a430" stroke-width="1.1"/>
<path d="M521.0 767.8h4.6M523.3 765.5v4.6" stroke="#111" stroke-width="1.6"/>
<g transform="translate(283.8 781.2) scale(1.06)"><use href="#blob"/></g>
<g transform="translate(494.3 775.0) scale(1.06)"><use href="#blob"/></g>
<g transform="translate(424.8 797.9) scale(1.06)"><use href="#blob"/></g>
<circle cx="367.5" cy="810.2" r="9.6" fill="#f3982b" stroke="#e38c22" stroke-width="0.9"/>
<path d="M364.5 810.2h6.0M367.5 807.2v6.0" stroke="#111" stroke-width="2.1"/>
<circle cx="262.5" cy="821.4" r="6.2" fill="#7bc142" stroke="#62a430" stroke-width="1.1"/>
<path d="M260.2 821.4h4.6M262.5 819.1v4.6" stroke="#111" stroke-width="1.6"/>
<circle cx="301.6" cy="822.5" r="7.5" fill="#c6c6c6" stroke="#bcbcbc" stroke-width="0.8"/>
<path d="M298.4 822.5h6.5" stroke="#111" stroke-width="2.1"/>
<circle cx="341.1" cy="826.9" r="6.2" fill="#7bc142" stroke="#62a430" stroke-width="1.1"/>
<path d="M338.8 826.9h4.6M341.1 824.6v4.6" stroke="#111" stroke-width="1.6"/>
<circle cx="467.5" cy="821.4" r="6.2" fill="#7bc142" stroke="#62a430" stroke-width="1.1"/>
<path d="M465.2 821.4h4.6M467.5 819.1v4.6" stroke="#111" stroke-width="1.6"/>
<text x="504.9" y="631.0" font-size="6.6" textLength="21.0" lengthAdjust="spacingAndGlyphs" fill="#747474">außen</text>
<text x="505.3" y="812.9" font-size="6.6" textLength="18.0" lengthAdjust="spacingAndGlyphs" fill="#747474">innen</text>
<g transform="translate(0 958.3)">
<rect x="248.6" y="-22" width="282.8" height="44" fill="url(#tails)"/>
<rect x="248.6" y="-3.2" width="282.8" height="5.6" fill="#fbf9d6" opacity="0.92"/>
<rect x="248.6" y="-27.6" width="282.8" height="6" fill="url(#heads)"/>
<g transform="translate(0 49.2)"><rect x="248.6" y="-27.6" width="282.8" height="6" fill="url(#heads)"/></g>
<rect x="272" y="-28.5" width="28" height="57" fill="#f9c49c"/>
<ellipse cx="272.2" cy="0" rx="4.4" ry="28.5" fill="#f39a4e"/>
<ellipse cx="299.6" cy="0" rx="4.4" ry="28.5" fill="#f39a4e"/>
<rect x="343" y="-28.5" width="22" height="57" fill="#c3d7a2"/>
<path d="M343 3L352 3L349 28.5L343 28.5Z" fill="#b0cb86"/>
<ellipse cx="343" cy="0" rx="3.6" ry="28.5" fill="#93b65a"/>
<ellipse cx="365" cy="0" rx="3.6" ry="28.5" fill="#93b65a"/>
<path d="M347.2 -0.9Q356 -3 363.4 -9L363.4 6.6Q356 1.2 347.2 -0.9Z" fill="#7cc53e"/>
<path d="M344.7 27.5L340.9 37.6" stroke="#7cc53e" stroke-width="1.6" fill="none"/>
<circle cx="339.9" cy="40.6" r="6.7" fill="#7cc53e"/>
<rect x="405.5" y="-28.5" width="29" height="57" fill="#f9c49c"/>
<ellipse cx="405.6" cy="0" rx="4" ry="28.5" fill="#f39a4e"/>
<ellipse cx="434.4" cy="0" rx="4" ry="28.5" fill="#f39a4e"/>
<path d="M410.2 0.9Q424 -1.8 432.5 -9.6L432.5 11.4Q424 3.6 410.2 0.9Z" fill="#f7941d"/>
<g transform="translate(494.6 0)"><use href="#pump"/></g>
</g>
<circle cx="261.7" cy="864.9" r="7.5" fill="#c6c6c6" stroke="#bcbcbc" stroke-width="0.8"/>
<path d="M258.5 864.9h6.5" stroke="#111" stroke-width="2.1"/>
<circle cx="333.5" cy="858.7" r="6.2" fill="#7bc142" stroke="#62a430" stroke-width="1.1"/>
<path d="M331.2 858.7h4.6M333.5 856.4v4.6" stroke="#111" stroke-width="1.6"/>
<circle cx="305.2" cy="879.4" r="9.1" fill="#f3982b" stroke="#e38c22" stroke-width="0.9"/>
<path d="M302.4 879.4h5.6M305.2 876.6v5.6" stroke="#111" stroke-width="2.1"/>
<circle cx="388.2" cy="866.3" r="5.7" fill="#7bc142" stroke="#62a430" stroke-width="1.1"/>
<path d="M386.1 866.3h4.2M388.2 864.2v4.2" stroke="#111" stroke-width="1.6"/>
<circle cx="438.6" cy="872.9" r="8" fill="#c6c6c6" stroke="#bcbcbc" stroke-width="0.8"/>
<path d="M435.2 872.9h6.9" stroke="#111" stroke-width="2.1"/>
<circle cx="485.7" cy="854.7" r="6.2" fill="#7bc142" stroke="#62a430" stroke-width="1.1"/>
<path d="M483.4 854.7h4.6M485.7 852.4v4.6" stroke="#111" stroke-width="1.6"/>
<circle cx="517.9" cy="888.1" r="5.7" fill="#7bc142" stroke="#62a430" stroke-width="1.1"/>
<path d="M515.8 888.1h4.2M517.9 886.0v4.2" stroke="#111" stroke-width="1.6"/>
<circle cx="274.4" cy="906.6" r="6.2" fill="#7bc142" stroke="#62a430" stroke-width="1.1"/>
<path d="M272.1 906.6h4.6M274.4 904.3v4.6" stroke="#111" stroke-width="1.6"/>
<circle cx="335.7" cy="908.0" r="7.5" fill="#c6c6c6" stroke="#bcbcbc" stroke-width="0.8"/>
<path d="M332.5 908.0h6.5" stroke="#111" stroke-width="2.1"/>
<circle cx="391.8" cy="910.9" r="6.2" fill="#7bc142" stroke="#62a430" stroke-width="1.1"/>
<path d="M389.5 910.9h4.6M391.8 908.6v4.6" stroke="#111" stroke-width="1.6"/>
<circle cx="441.1" cy="905.8" r="10.1" fill="#f3982b" stroke="#e38c22" stroke-width="0.9"/>
<path d="M438.0 905.8h6.3M441.1 902.7v6.3" stroke="#111" stroke-width="2.1"/>
<circle cx="475.9" cy="916.7" r="6.2" fill="#7bc142" stroke="#62a430" stroke-width="1.1"/>
<path d="M473.6 916.7h4.6M475.9 914.4v4.6" stroke="#111" stroke-width="1.6"/>
<circle cx="508.5" cy="910.5" r="7.5" fill="#c6c6c6" stroke="#bcbcbc" stroke-width="0.8"/>
<path d="M505.3 910.5h6.5" stroke="#111" stroke-width="2.1"/>
<circle cx="313.6" cy="1001.1" r="10.6" fill="#f3982b" stroke="#e38c22" stroke-width="0.9"/>
<path d="M310.3 1001.1h6.6M313.6 997.8v6.6" stroke="#111" stroke-width="2.1"/>
<circle cx="382.4" cy="1010.5" r="10.1" fill="#f3982b" stroke="#e38c22" stroke-width="0.9"/>
<path d="M379.3 1010.5h6.3M382.4 1007.4v6.3" stroke="#111" stroke-width="2.1"/>
<circle cx="453.0" cy="1010.5" r="5.7" fill="#7bc142" stroke="#62a430" stroke-width="1.1"/>
<path d="M450.9 1010.5h4.2M453.0 1008.4v4.2" stroke="#111" stroke-width="1.6"/>
<g transform="translate(284.9 1021.8) scale(1.06)"><use href="#blob"/></g>
<g transform="translate(494.7 1016.0) scale(1.06)"><use href="#blob"/></g>
<g transform="translate(425.9 1039.5) scale(1.06)"><use href="#blob"/></g>
<circle cx="265.4" cy="1051.5" r="10.1" fill="#f3982b" stroke="#e38c22" stroke-width="0.9"/>
<path d="M262.3 1051.5h6.3M265.4 1048.4v6.3" stroke="#111" stroke-width="2.1"/>
<circle cx="302.3" cy="1063.0" r="7.5" fill="#c6c6c6" stroke="#bcbcbc" stroke-width="0.8"/>
<path d="M299.1 1063.0h6.5" stroke="#111" stroke-width="2.1"/>
<circle cx="346.2" cy="1054.7" r="5.7" fill="#7bc142" stroke="#62a430" stroke-width="1.1"/>
<path d="M344.1 1054.7h4.2M346.2 1052.6v4.2" stroke="#111" stroke-width="1.6"/>
<circle cx="381.3" cy="1062.0" r="11.1" fill="#f3982b" stroke="#e38c22" stroke-width="0.9"/>
<path d="M377.9 1062.0h6.9M381.3 1058.6v6.9" stroke="#111" stroke-width="2.1"/>
<circle cx="463.6" cy="1063.0" r="10.6" fill="#f3982b" stroke="#e38c22" stroke-width="0.9"/>
<path d="M460.3 1063.0h6.6M463.6 1059.7v6.6" stroke="#111" stroke-width="2.1"/>
<circle cx="502.3" cy="1066.7" r="6.2" fill="#7bc142" stroke="#62a430" stroke-width="1.1"/>
<path d="M500.0 1066.7h4.6M502.3 1064.4v4.6" stroke="#111" stroke-width="1.6"/>
<text x="504.9" y="869.7" font-size="6.6" textLength="21.0" lengthAdjust="spacingAndGlyphs" fill="#747474">außen</text>
<text x="505.3" y="1051.4" font-size="6.6" textLength="18.0" lengthAdjust="spacingAndGlyphs" fill="#747474">innen</text>
<path d="M458.5 901.5C480 896 494 912 501 937.5M496.8 933.5L501.5 938.8L503.8 932" fill="none" stroke="#111" stroke-width="1.75" stroke-linecap="round" stroke-linejoin="round"/>
<text x="489.6" y="904.3" font-size="11" textLength="7.0" lengthAdjust="spacingAndGlyphs" class="hw">2</text>
<path d="M460.5 1011.3C474 1010 485 1001 490.5 989.5M485.5 991.3L491 988.7L492.6 994.6" fill="none" stroke="#111" stroke-width="1.75" stroke-linecap="round" stroke-linejoin="round"/>
<text x="468.3" y="1003.0" font-size="12.5" textLength="7.4" lengthAdjust="spacingAndGlyphs" class="hw">3</text>
<path d="M562.8 152L571.3 194.3L544.6 194.3Z" fill="#7dc242" stroke="#7dc242" stroke-width="2" stroke-linejoin="round"/>
<path d="M572.8 171.3H580.6M577.4 168.5L580.6 171.3L577.4 174.1" fill="none" stroke="#000" stroke-width="1.1" stroke-linecap="round" stroke-linejoin="round"/>
<text x="590.0" y="163.0" font-size="12.6" textLength="157.0" lengthAdjust="spacingAndGlyphs" class="hw">Aktivierungstor  N<tspan dy="-3.5" font-size="75%">+</tspan><tspan dy="3.5"> </tspan> öffnet</text>
<text x="589.0" y="177.3" font-size="12.6" textLength="92.4" lengthAdjust="spacingAndGlyphs" class="hw">sich bei -50mV</text>
<text x="588.0" y="193.6" font-size="12.6" textLength="140.4" lengthAdjust="spacingAndGlyphs" class="hw">schließt sich nach 1ms</text>
<path d="M557.9 215.5V240" stroke="#7dc242" stroke-width="2"/>
<circle cx="557.9" cy="247.3" r="11.8" fill="#7dc242"/>
<text x="590.7" y="224.3" font-size="12.6" textLength="154.6" lengthAdjust="spacingAndGlyphs" class="hw">Inaktivierungstor N<tspan dy="-3.5" font-size="75%">+</tspan><tspan dy="3.5"> </tspan>schließt</text>
<path d="M576.5 237.2H584.0M580.8 234.4L584.0 237.2L580.8 240.0" fill="none" stroke="#000" stroke-width="1.1" stroke-linecap="round" stroke-linejoin="round"/>
<text x="590.0" y="238.2" font-size="12.6" textLength="172.5" lengthAdjust="spacingAndGlyphs" class="hw">nach 1ms und öffnet nachdem</text>
<text x="590.0" y="252.4" font-size="12.6" textLength="186.7" lengthAdjust="spacingAndGlyphs" class="hw">sich das Aktivierungstor geschlossen</text>
<text x="590.7" y="266.6" font-size="12.6" textLength="18.6" lengthAdjust="spacingAndGlyphs" class="hw">hat</text>
<path d="M563.7 286.8L577.7 327.7L548 327.7Z" fill="#f7941d" stroke="#f7941d" stroke-width="2.2" stroke-linejoin="round"/>
<text x="598.2" y="296.4" font-size="12.6" textLength="141.3" lengthAdjust="spacingAndGlyphs" class="hw">Aktivierungstor K<tspan dy="-3.5" font-size="75%">+</tspan><tspan dy="3.5"> </tspan>öffnet</text>
<path d="M581.3 308.2H589.7M586.5 305.4L589.7 308.2L586.5 311.0" fill="none" stroke="#000" stroke-width="1.1" stroke-linecap="round" stroke-linejoin="round"/>
<text x="597.5" y="311.6" font-size="12.6" textLength="146.0" lengthAdjust="spacingAndGlyphs" class="hw">sich vollständig nach 1ms</text>
<text x="600.2" y="330.2" font-size="12.6" textLength="139.3" lengthAdjust="spacingAndGlyphs" class="hw">und schließt langsam</text>
<text x="600.9" y="347.1" font-size="12.6" textLength="74.4" lengthAdjust="spacingAndGlyphs" class="hw">bei -50mV</text>
<path d="M553.5 392V575M548.6 570.5L553.5 575.6L558.6 570.5" fill="none" stroke="#111" stroke-width="1.8" stroke-linecap="round" stroke-linejoin="round"/>
<text x="562.0" y="453.9" font-size="16" textLength="128.5" lengthAdjust="spacingAndGlyphs" class="hw">elektromotorische</text>
<text x="564.3" y="478.2" font-size="18" textLength="41.7" lengthAdjust="spacingAndGlyphs" class="hw">Kraft</text>
<path d="M553.5 821.5V624M545.5 631L553.5 623.7L561.2 631" fill="none" stroke="#111" stroke-width="1.8" stroke-linecap="round" stroke-linejoin="round"/>
<text x="558.6" y="698.0" font-size="16" textLength="127.8" lengthAdjust="spacingAndGlyphs" class="hw">elektromotorische</text>
<text x="561.0" y="722.4" font-size="18" textLength="41.6" lengthAdjust="spacingAndGlyphs" class="hw">Kraft</text>
<path d="M549.0 958.5H557.6M554.4 955.7L557.6 958.5L554.4 961.3" fill="none" stroke="#000" stroke-width="1.1" stroke-linecap="round" stroke-linejoin="round"/>
<text x="562.0" y="962.6" font-size="15" textLength="220.8" lengthAdjust="spacingAndGlyphs" class="hw">undershoot, da  spannungs  und</text>
<text x="563.7" y="983.5" font-size="15" textLength="226.6" lengthAdjust="spacingAndGlyphs" class="hw">hintergrund Kaliumkanäle offen</text>
<text x="565.4" y="1004.8" font-size="15" textLength="235.6" lengthAdjust="spacingAndGlyphs" class="hw">sind und zu viele K<tspan dy="-3.5" font-size="75%">+</tspan><tspan dy="3.5"> </tspan>austreten</text>
</svg>
</body></html>
